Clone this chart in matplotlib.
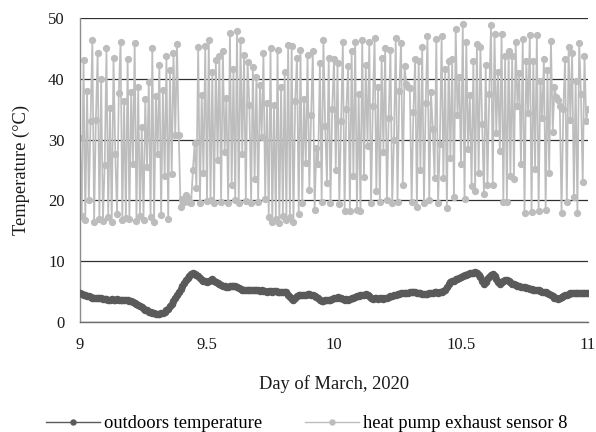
import numpy as np
import matplotlib
matplotlib.use("Agg")
import matplotlib.pyplot as plt
from matplotlib.lines import Line2D

plt.rcParams['font.family'] = ['Liberation Serif', 'DejaVu Serif']

# Readings every 10 minutes from March 9, 00:00 to March 11, 00:00
SAMPLES_PER_DAY = 144
START_DAY = 9

outdoor_temp = [
    4.7, 4.6, 4.5, 4.4, 4.3, 4.2, 4.1, 4.0, 4.0, 3.9, 3.9, 3.9,
    3.9, 3.8, 3.8, 3.8, 3.7, 3.7, 3.8, 3.7, 3.7, 3.8, 3.7, 3.7,
    3.6, 3.7, 3.7, 3.6, 3.5, 3.4, 3.3, 3.1, 3.0, 2.8, 2.6, 2.4,
    2.2, 2.0, 1.9, 1.7, 1.6, 1.5, 1.4, 1.3, 1.3, 1.3, 1.4, 1.5,
    1.65, 1.9, 2.2, 2.6, 3.0, 3.4, 3.9, 4.4, 4.9, 5.4, 5.9, 6.4,
    6.9, 7.3, 7.6, 7.9, 8.0, 7.9, 7.7, 7.5, 7.2, 6.9, 6.8, 6.7,
    6.6, 6.7, 6.9, 7.0, 6.8, 6.6, 6.4, 6.3, 6.1, 6.0, 5.9, 5.8,
    5.8, 5.9, 5.9, 6.0, 6.0, 5.8, 5.6, 5.4, 5.3, 5.3, 5.2, 5.3,
    5.2, 5.2, 5.3, 5.2, 5.2, 5.2, 5.1, 5.2, 5.1, 5.1, 5.0, 5.1,
    5.1, 5.0, 5.1, 5.1, 5.0, 5.0, 4.9, 5.0, 4.9, 4.9, 4.5, 4.1,
    3.8, 3.7, 3.9, 4.2, 4.4, 4.5, 4.5, 4.4, 4.5, 4.6, 4.6, 4.5,
    4.4, 4.2, 4.1, 3.9, 3.6, 3.5, 3.5, 3.6, 3.7, 3.7, 3.7, 3.8,
    3.9, 4.0, 4.1, 4.0, 3.9, 3.8, 3.7, 3.8, 3.7, 3.8, 3.9, 4.0,
    4.1, 4.2, 4.3, 4.4, 4.5, 4.5, 4.6, 4.4, 4.2, 4.0, 3.85, 3.9,
    3.9, 3.8, 3.9, 3.9, 3.85, 3.9, 4.0, 4.1, 4.2, 4.3, 4.4, 4.5,
    4.6, 4.6, 4.7, 4.7, 4.8, 4.8, 4.8, 4.9, 4.9, 4.9, 4.9, 4.8,
    4.8, 4.7, 4.6, 4.6, 4.6, 4.6, 4.7, 4.8, 4.8, 4.9, 4.9, 4.8,
    4.9, 4.9, 5.1, 5.3, 5.7, 6.2, 6.6, 6.7, 6.8, 7.0, 7.1, 7.2,
    7.4, 7.5, 7.7, 7.8, 7.9, 8.0, 8.1, 8.0, 8.2, 8.0, 7.7, 7.4,
    6.8, 6.3, 6.6, 7.1, 7.4, 7.7, 7.9, 7.6, 7.1, 6.6, 6.3, 6.5,
    6.8, 6.9, 6.9, 6.7, 6.5, 6.3, 6.2, 6.1, 6.0, 5.9, 5.8, 5.8,
    5.7, 5.6, 5.6, 5.5, 5.4, 5.3, 5.3, 5.2, 5.2, 5.1, 5.0, 4.9,
    4.9, 4.8, 4.6, 4.4, 4.2, 4.0, 3.9, 3.85, 3.9, 4.1, 4.3, 4.4,
    4.5, 4.6, 4.7, 4.7, 4.8, 4.8, 4.7, 4.8, 4.8, 4.7, 4.7, 4.8, 4.8,
]

exhaust_sensor8 = [
    30.2, 17.4, 43.1, 16.8, 38.0, 20.0, 33.1, 46.3, 16.5, 33.3, 44.3, 17.0,
    39.9, 16.6, 25.8, 45.0, 17.3, 35.2, 16.4, 43.4, 27.6, 17.8, 37.7, 46.1,
    16.7, 36.3, 17.1, 43.2, 16.9, 37.9, 26.0, 45.9, 16.6, 38.6, 17.5, 32.0,
    16.8, 36.7, 25.5, 39.4, 17.2, 45.0, 16.5, 37.2, 27.6, 42.3, 17.6, 38.2,
    24.0, 43.7, 17.0, 41.5, 24.3, 44.2, 30.8, 45.7, 30.7, 18.9, 20.3, 19.8,
    20.9, 20.4, 19.7, 19.5, 25.0, 29.4, 22.0, 45.3, 19.6, 37.3, 24.5, 45.4,
    19.9, 46.3, 20.1, 41.2, 19.5, 43.1, 26.6, 43.8, 19.8, 44.5, 28.0, 36.8,
    19.6, 47.5, 22.6, 41.6, 20.0, 47.8, 19.5, 46.3, 27.7, 43.9, 19.9, 42.8,
    35.7, 19.6, 42.0, 23.5, 40.3, 19.8, 39.0, 30.5, 44.2, 20.2, 36.0, 17.2,
    45.0, 16.5, 35.7, 17.0, 44.8, 16.3, 38.7, 17.5, 41.2, 16.8, 45.6, 17.3,
    45.4, 16.4, 36.4, 43.5, 17.8, 44.7, 19.6, 36.6, 26.2, 43.9, 21.7, 34.0,
    44.5, 18.4, 28.6, 26.0, 42.6, 19.8, 46.3, 32.2, 22.9, 43.5, 19.6, 35.1,
    43.2, 25.0, 42.6, 19.4, 33.0, 46.0, 18.3, 35.1, 42.1, 18.2, 44.5, 24.0,
    46.1, 18.4, 37.5, 18.3, 46.3, 23.9, 42.3, 29.0, 46.0, 19.5, 35.5, 46.7,
    21.5, 38.7, 19.8, 43.5, 28.0, 45.0, 20.0, 33.5, 44.8, 19.5, 30.0, 46.7,
    19.8, 38.0, 45.9, 22.5, 42.1, 39.2, 38.7, 38.5, 19.7, 34.5, 43.3, 18.9,
    43.0, 25.0, 45.3, 19.6, 36.0, 47.0, 20.0, 37.8, 31.7, 23.7, 46.5, 19.6,
    29.2, 47.0, 23.7, 41.6, 18.8, 43.0, 27.0, 43.2, 20.5, 48.2, 34.0, 40.3,
    26.0, 49.0, 20.2, 46.0, 28.5, 37.3, 22.3, 43.0, 21.5, 45.8, 24.5, 45.3,
    32.6, 21.0, 42.3, 22.5, 37.5, 48.9, 22.6, 47.4, 31.1, 41.1, 28.1, 47.4,
    19.7, 43.8, 19.7, 44.6, 24.0, 43.8, 23.5, 46.0, 35.6, 40.9, 26.0, 46.5,
    17.9, 43.0, 34.4, 47.2, 18.1, 43.0, 25.2, 47.2, 18.3, 39.7, 33.5, 43.3,
    18.5, 41.5, 24.5, 46.2, 31.3, 38.6, 37.0, 36.5, 35.5, 18.0, 35.0, 43.3,
    19.7, 45.2, 33.3, 44.3, 20.5, 39.7, 18.0, 45.9, 37.5, 23.0, 43.8, 33.0, 35.0,
]

x_ticks = [9, 9.5, 10, 10.5, 11]
x_tick_labels = ['9', '9.5', '10', '10.5', '11']
y_ticks = [0, 10, 20, 30, 40, 50]

OUT_COLOR = '#5a5a5a'
HP_COLOR = '#bdbdbd'

t_out = START_DAY + np.arange(len(outdoor_temp)) / SAMPLES_PER_DAY
t_hp = START_DAY + np.arange(len(exhaust_sensor8)) / SAMPLES_PER_DAY

fig = plt.figure(figsize=(5.96, 4.32), dpi=100)
ax = fig.add_axes([80 / 596, 1 - 322 / 432, 508 / 596, 304 / 432])

ax.plot(t_out, outdoor_temp, color=OUT_COLOR, lw=2.0, marker='o', ms=4.4,
        mec=OUT_COLOR, mfc=OUT_COLOR, zorder=3)
ax.plot(t_hp, exhaust_sensor8, color=HP_COLOR, lw=1.25, marker='o', ms=4.2,
        mec=HP_COLOR, mfc=HP_COLOR, zorder=2)

ax.set_xlim(9, 11)
ax.set_ylim(0, 50)
ax.set_xticks(x_ticks)
ax.set_xticklabels(x_tick_labels)
ax.set_yticks(y_ticks)
ax.tick_params(axis='both', length=0, labelsize=12, colors='#1a1a1a', pad=11)

ax.yaxis.grid(True, color='#303030', lw=0.9)
ax.set_axisbelow(True)
for side in ('top', 'right'):
    ax.spines[side].set_visible(False)
ax.spines['left'].set_color('#8c8c8c')
ax.spines['bottom'].set_color('#6e6e6e')
ax.spines['left'].set_linewidth(1.0)
ax.spines['bottom'].set_linewidth(1.0)

ax.set_xlabel('Day of March, 2020', fontsize=13.3, color='#1a1a1a')
ax.xaxis.set_label_coords(0.5, -0.176)
ax.set_ylabel('Temperature (\u00b0C)', fontsize=13.3, color='#1a1a1a')
ax.yaxis.set_label_coords(-0.098, 0.5)

handles = [
    Line2D([], [], color=OUT_COLOR, lw=1.0, marker='o', ms=3.6,
           mec=OUT_COLOR, mfc=OUT_COLOR),
    Line2D([], [], color=HP_COLOR, lw=1.0, marker='o', ms=3.6,
           mec=HP_COLOR, mfc=HP_COLOR),
]
labels = ['outdoors temperature', 'heat pump exhaust sensor 8']
fig.legend(handles, labels, loc='center', bbox_to_anchor=(0.515, 1 - 424 / 432),
           ncol=2, frameon=False, fontsize=13.3, handlelength=2.9,
           columnspacing=2.3, handletextpad=0.25, borderpad=0.1)

fig.savefig('out.png', dpi=100)
